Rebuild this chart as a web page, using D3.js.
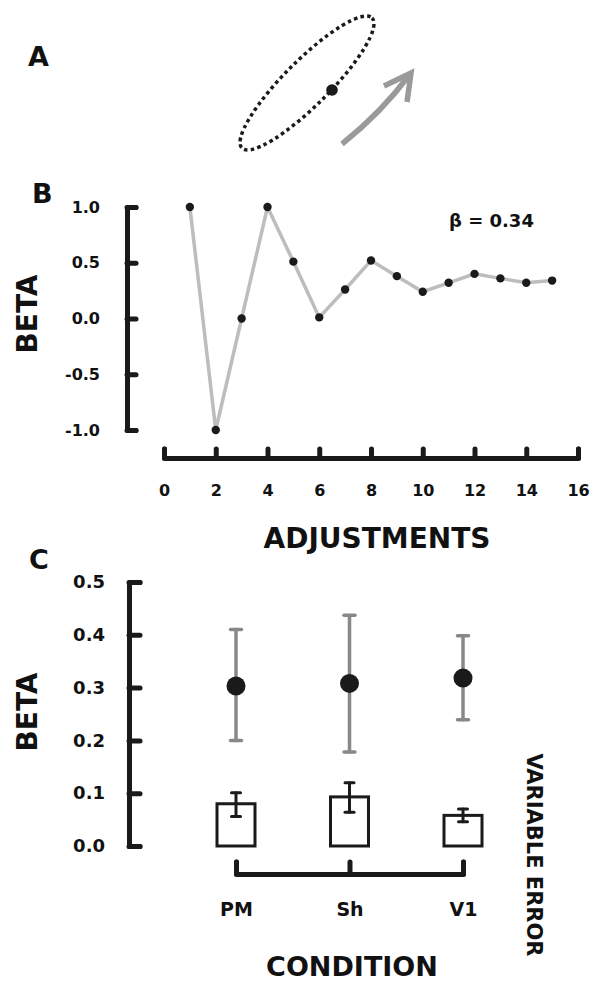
<!DOCTYPE html>
<html>
<head>
<meta charset="utf-8">
<script src="https://cdn.jsdelivr.net/npm/d3@7"></script>
<style>
	body { margin: 0; background: #fff; }
	text { font-family: "DejaVu Sans", sans-serif; font-weight: bold; fill: #111; }
</style>
</head>
<body>
<svg id="fig" width="590" height="981"></svg>
<script>
// panel B data
const adjustments = [1, 2, 3, 4, 5, 6, 7, 8, 9, 10, 11, 12, 13, 14, 15];
const beta_values = [1.0, -1.0, 0.0, 1.0, 0.51, 0.01, 0.26, 0.52, 0.38, 0.24, 0.32, 0.40, 0.36, 0.32, 0.34];
const b_x_ticks = [0, 2, 4, 6, 8, 10, 12, 14, 16];
const b_y_ticks = [1.0, 0.5, 0.0, -0.5, -1.0];

// panel C data
const conditions = ["PM", "Sh", "V1"];
const beta_means = [0.303, 0.308, 0.318];
const beta_low = [0.200, 0.178, 0.239];
const beta_high = [0.410, 0.437, 0.398];
const ve_means = [0.080, 0.093, 0.058];
const ve_low = [0.056, 0.064, 0.046];
const ve_high = [0.101, 0.120, 0.070];
const c_y_ticks = [0.0, 0.1, 0.2, 0.3, 0.4, 0.5];

const svg = d3.select("#fig");
const ink = "#1a1a1a";
const fmt = d => d.toFixed(1);

// ---- panel A (sketch) ----
svg.append("text").attr("x", 28).attr("y", 66).style("font-size", "27px").text("A");
svg.append("ellipse")
	.attr("transform", "translate(307,83) rotate(-45)")
	.attr("rx", 92).attr("ry", 22.5)
	.style("fill", "none").style("stroke", ink)
	.style("stroke-width", 3.5).style("stroke-dasharray", "3.5,3.3");
svg.append("circle").attr("cx", 332).attr("cy", 90).attr("r", 5.8).style("fill", ink);
svg.append("path")
	.attr("d", "M342,144 Q382,112 410,74")
	.style("fill", "none").style("stroke", "#9a9a9a").style("stroke-width", 5.5);
svg.append("path")
	.attr("d", "M384,86 L411,73 L407,102")
	.style("fill", "none").style("stroke", "#9a9a9a").style("stroke-width", 5.5)
	.style("stroke-linejoin", "miter");

// ---- panel B ----
const x_b = d3.scaleLinear().domain([0, 16]).range([164, 578]);
const y_b = d3.scaleLinear().domain([-1, 1]).range([430, 207]);

svg.append("text").attr("x", 32).attr("y", 203).style("font-size", "27px").text("B");

const b_y_axis = svg.append("g")
	.attr("transform", "translate(127,0)")
	.call(d3.axisLeft(y_b).tickValues(b_y_ticks).tickSize(-9).tickPadding(27)
		.tickFormat(fmt));
const b_x_axis = svg.append("g")
	.attr("transform", "translate(0,458)")
	.call(d3.axisBottom(x_b).tickValues(b_x_ticks).tickSize(-9).tickPadding(27));
[b_y_axis, b_x_axis].forEach(g => {
	g.selectAll("path, line").style("stroke", ink).style("stroke-width", 5)
		.style("stroke-linecap", "round").style("stroke-linejoin", "round");
	g.selectAll("text").style("font-size", "16px").style("font-family", "DejaVu Sans")
		.style("font-weight", "bold").style("fill", "#111");
});

svg.append("path")
	.datum(beta_values)
	.attr("d", d3.line().x((d, i) => x_b(adjustments[i])).y(d => y_b(d)))
	.style("fill", "none").style("stroke", "#bdbdbd").style("stroke-width", 3.5);
svg.append("g").selectAll("circle").data(beta_values).enter()
	.append("circle")
	.attr("cx", (d, i) => x_b(adjustments[i]))
	.attr("cy", d => y_b(d))
	.attr("r", 4.2).style("fill", ink);

svg.append("text").attr("x", 449).attr("y", 227).style("font-size", "18px").text("β = 0.34");
svg.append("text").attr("transform", "translate(37,314) rotate(-90)")
	.attr("text-anchor", "middle").style("font-size", "28px").text("BETA");
svg.append("text").attr("x", 377).attr("y", 548)
	.attr("text-anchor", "middle").style("font-size", "28px").text("ADJUSTMENTS");

// ---- panel C ----
const x_c = d3.scalePoint().domain(conditions).range([236, 463]);
const y_c = d3.scaleLinear().domain([0, 0.5]).range([846, 582]);

svg.append("text").attr("x", 29).attr("y", 569).style("font-size", "27px").text("C");

const c_y_axis = svg.append("g")
	.attr("transform", "translate(129,0)")
	.call(d3.axisLeft(y_c).tickValues(c_y_ticks).tickSize(-11).tickPadding(24)
		.tickFormat(fmt));
const c_x_axis = svg.append("g")
	.attr("transform", "translate(0,874)")
	.call(d3.axisBottom(x_c).tickSize(-12).tickPadding(29));
[c_y_axis, c_x_axis].forEach(g => {
	g.selectAll("path, line").style("stroke", ink).style("stroke-width", 5)
		.style("stroke-linecap", "round").style("stroke-linejoin", "round");
	g.selectAll("text").style("font-family", "DejaVu Sans")
		.style("font-weight", "bold").style("fill", "#111");
});
c_y_axis.selectAll("text").style("font-size", "18px");
c_x_axis.selectAll("text").style("font-size", "19px");

// beta means with error bars
const cap_w = 11;
const beta_g = svg.append("g").selectAll("g").data(conditions).enter().append("g");
beta_g.append("line")
	.attr("x1", d => x_c(d)).attr("x2", d => x_c(d))
	.attr("y1", (d, i) => y_c(beta_low[i])).attr("y2", (d, i) => y_c(beta_high[i]));
beta_g.append("line")
	.attr("x1", d => x_c(d) - cap_w / 2).attr("x2", d => x_c(d) + cap_w / 2)
	.attr("y1", (d, i) => y_c(beta_high[i])).attr("y2", (d, i) => y_c(beta_high[i]));
beta_g.append("line")
	.attr("x1", d => x_c(d) - cap_w / 2).attr("x2", d => x_c(d) + cap_w / 2)
	.attr("y1", (d, i) => y_c(beta_low[i])).attr("y2", (d, i) => y_c(beta_low[i]));
beta_g.selectAll("line").style("stroke", "#888").style("stroke-width", 3.5)
	.style("stroke-linecap", "round");
beta_g.append("circle")
	.attr("cx", d => x_c(d)).attr("cy", (d, i) => y_c(beta_means[i]))
	.attr("r", 9.5).style("fill", ink);

// variable error bars
const bar_w = 38;
const ve_g = svg.append("g").selectAll("g").data(conditions).enter().append("g");
ve_g.append("rect")
	.attr("x", d => x_c(d) - bar_w / 2).attr("width", bar_w)
	.attr("y", (d, i) => y_c(ve_means[i]))
	.attr("height", (d, i) => y_c(0) - y_c(ve_means[i]))
	.style("fill", "#fff").style("stroke", ink).style("stroke-width", 3);
const ve_cap = 9;
ve_g.append("line")
	.attr("x1", d => x_c(d)).attr("x2", d => x_c(d))
	.attr("y1", (d, i) => y_c(ve_low[i])).attr("y2", (d, i) => y_c(ve_high[i]));
ve_g.append("line")
	.attr("x1", d => x_c(d) - ve_cap / 2).attr("x2", d => x_c(d) + ve_cap / 2)
	.attr("y1", (d, i) => y_c(ve_high[i])).attr("y2", (d, i) => y_c(ve_high[i]));
ve_g.append("line")
	.attr("x1", d => x_c(d) - ve_cap / 2).attr("x2", d => x_c(d) + ve_cap / 2)
	.attr("y1", (d, i) => y_c(ve_low[i])).attr("y2", (d, i) => y_c(ve_low[i]));
ve_g.selectAll("line").style("stroke", ink).style("stroke-width", 3)
	.style("stroke-linecap", "round");

svg.append("text").attr("transform", "translate(37,712) rotate(-90)")
	.attr("text-anchor", "middle").style("font-size", "28px").text("BETA");
svg.append("text").attr("x", 352).attr("y", 976)
	.attr("text-anchor", "middle").style("font-size", "27px").text("CONDITION");
svg.append("text").attr("transform", "translate(527,855) rotate(90)")
	.attr("text-anchor", "middle").style("font-size", "21px").text("VARIABLE ERROR");
</script>
</body>
</html>
